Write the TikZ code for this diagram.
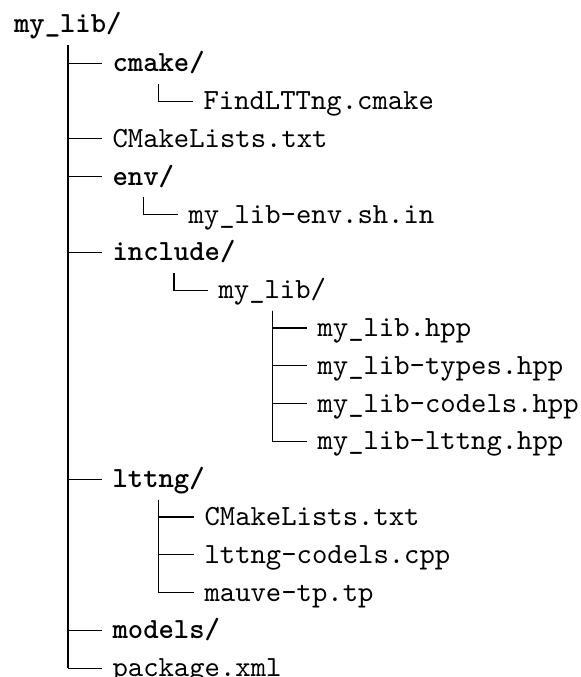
\documentclass[tikz,border=0pt]{standalone}
\begin{document}
\begin{tikzpicture}[x=0.34177pt,y=-0.34177pt,
  entry/.style={anchor=base west, font=\ttfamily, inner xsep=3.3pt, inner ysep=2.93pt,
                text height=6.8pt, text depth=1pt},
  dir/.style={entry, font=\ttfamily\bfseries},
  trunk/.style={line width=0.6pt},
  twig/.style={line width=0.4pt}]
\useasboundingbox (0,0) rectangle (581,677);

% root
\node[dir] (root) at (3.8,33) {my\_lib/};

% first level
\node[dir]   (cmake)   at (102.3, 71.8) {cmake/};
\node[entry] (cml)     at (102.3,147.4) {CMakeLists.txt};
\node[dir]   (env)     at (102.3,185.2) {env/};
\node[dir]   (inc)     at (102.3,260.8) {include/};
\node[dir]   (lttng)   at (102.3,487.6) {lttng/};
\node[dir]   (models)  at (102.3,638.8) {models/};
\node[entry] (pkg)     at (102.3,676.6) {package.xml};

% cmake/
\node[entry] (find)    at (193.3,109.6) {FindLTTng.cmake};
% env/
\node[entry] (envsh)   at (178.3,223.0) {my\_lib-env.sh.in};
% include/
\node[entry] (incdir)  at (208.3,298.6) {my\_lib/};
\node[entry] (hpp)     at (307.3,336.4) {my\_lib.hpp};
\node[entry] (types)   at (307.3,374.2) {my\_lib-types.hpp};
\node[entry] (codels)  at (307.3,412.0) {my\_lib-codels.hpp};
\node[entry] (lthpp)   at (307.3,449.8) {my\_lib-lttng.hpp};
% lttng/
\node[entry] (ltcml)   at (194.3,525.4) {CMakeLists.txt};
\node[entry] (ltcpp)   at (194.3,563.2) {lttng-codels.cpp};
\node[entry] (tp)      at (194.3,601.0) {mauve-tp.tp};

% main trunk
\draw[trunk] (root.south) -- (root.south |- pkg.west);
\foreach \c in {cmake,cml,env,inc,lttng,models,pkg}
  \draw[twig] (root.south |- \c.west) -- (\c.west);

% sub-trees
\draw[twig] (cmake.south) |- (find.west);
\draw[twig] (env.south) |- (envsh.west);
\draw[twig] (inc.south) |- (incdir.west);
\foreach \c in {hpp,types,codels,lthpp}
  \draw[twig] (incdir.south) |- (\c.west);
\foreach \c in {ltcml,ltcpp,tp}
  \draw[twig] (lttng.south) |- (\c.west);
\end{tikzpicture}
\end{document}
